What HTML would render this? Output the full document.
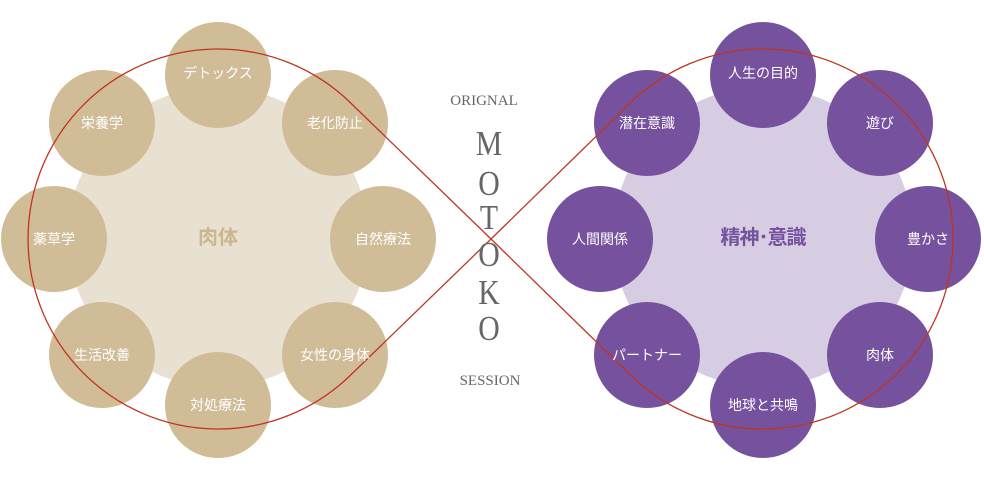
<!DOCTYPE html>
<html><head><meta charset="utf-8"><style>
body{margin:0;background:#fff;}
svg text{font-family:"Liberation Sans","Noto Sans CJK JP",sans-serif;}
.s{fill:#fff;font-size:14px;text-anchor:middle;}
.serif{font-family:"Liberation Serif",serif !important;fill:#666;text-anchor:middle;}
</style></head><body>
<svg width="984" height="480" viewBox="0 0 984 480">
<circle cx="218" cy="237" r="150" fill="#e8e1d1"/>
<circle cx="763" cy="237" r="150" fill="#d7cde3"/>
<g fill="#d1bc98">
<circle cx="218" cy="75" r="53"/><circle cx="335" cy="123" r="53"/><circle cx="383" cy="239" r="53"/><circle cx="335" cy="355" r="53"/><circle cx="218" cy="405" r="53"/><circle cx="102" cy="355" r="53"/><circle cx="54" cy="239" r="53"/><circle cx="102" cy="123" r="53"/>
</g>
<g fill="#76529e">
<circle cx="763" cy="75" r="53"/><circle cx="880" cy="123" r="53"/><circle cx="928" cy="239" r="53"/><circle cx="880" cy="355" r="53"/><circle cx="763" cy="405" r="53"/><circle cx="647" cy="355" r="53"/><circle cx="600" cy="239" r="53"/><circle cx="647" cy="123" r="53"/>
</g>
<path d="M491 239 L350.3 102.6 A190 190 0 1 0 350.3 375.4 Z" fill="none" stroke="#c0341f" stroke-width="1.3"/>
<path d="M491 239 L630.7 102.6 A190 190 0 1 1 630.7 375.4 Z" fill="none" stroke="#c0341f" stroke-width="1.3"/>
<text x="218" y="244" font-size="20" font-weight="bold" fill="#cdb68e" text-anchor="middle">肉体</text>
<text x="763" y="244" font-size="20" font-weight="bold" fill="#76529e" text-anchor="middle" letter-spacing="-1">精神･意識</text>
<g class="s">
<text class="s" x="218" y="78">デトックス</text><text class="s" x="335" y="128">老化防止</text><text class="s" x="383" y="244">自然療法</text><text class="s" x="335" y="360">女性の身体</text><text class="s" x="218" y="410">対処療法</text><text class="s" x="102" y="360">生活改善</text><text class="s" x="54" y="244">薬草学</text><text class="s" x="102" y="128">栄養学</text>
<text class="s" x="763" y="78">人生の目的</text><text class="s" x="880" y="128">遊び</text><text class="s" x="928" y="244">豊かさ</text><text class="s" x="880" y="360">肉体</text><text class="s" x="763" y="410">地球と共鳴</text><text class="s" x="647" y="360">パートナー</text><text class="s" x="600" y="244">人間関係</text><text class="s" x="647" y="128">潜在意識</text>
</g>
<text class="serif" x="484" y="105" font-size="15">ORIGNAL</text>
<g transform="translate(489 0) scale(0.85 1)">
<text class="serif" x="0" y="155" font-size="35">M</text>
<text class="serif" x="0" y="195" font-size="35">O</text>
<text class="serif" x="0" y="229" font-size="35">T</text>
<text class="serif" x="0" y="266" font-size="35">O</text>
<text class="serif" x="0" y="304" font-size="35">K</text>
<text class="serif" x="0" y="340" font-size="35">O</text>
</g>
<text class="serif" x="490" y="385" font-size="15">SESSION</text>
</svg>
</body></html>
